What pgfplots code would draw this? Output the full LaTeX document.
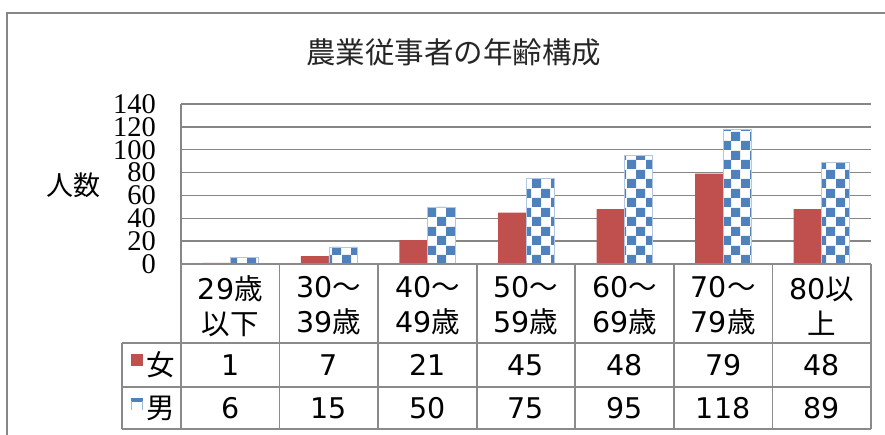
\documentclass[border=0pt]{standalone}
\usepackage{pgfplots}
\pgfplotsset{compat=1.18}
\usetikzlibrary{patterns}
\usepackage{fontspec}
\setmainfont{DejaVu Sans}
\newfontfamily\jp{Noto Sans CJK JP}
\newfontfamily\tickserif{Liberation Serif}
\newcommand{\J}[1]{{\jp #1}}
\definecolor{fem}{HTML}{C0504D}
\definecolor{mal}{HTML}{4F81BD}
\definecolor{gridc}{HTML}{868686}
\definecolor{tabc}{HTML}{8A8A8A}
\pgfdeclarepatternformonly{mycheck}{\pgfqpoint{0bp}{0bp}}{\pgfqpoint{19bp}{19bp}}{\pgfqpoint{19bp}{19bp}}{%
  \pgfpathrectangle{\pgfqpoint{0bp}{0bp}}{\pgfqpoint{9.5bp}{9.5bp}}%
  \pgfpathrectangle{\pgfqpoint{9.5bp}{9.5bp}}{\pgfqpoint{9.5bp}{9.5bp}}%
  \pgfusepath{fill}}
\begin{document}
\begin{tikzpicture}
\useasboundingbox (0bp,0bp) rectangle (885bp,-435bp);
\begin{axis}[
  at={(181bp,-264bp)}, anchor=south west,
  scale only axis, width=690bp, height=160bp,
  xmin=-0.5, xmax=6.5, ymin=0, ymax=140,
  ytick={0,20,...,140}, xtick=\empty,
  axis x line*=bottom, axis y line*=left,
  axis line style={draw=gridc, line width=1.5bp},
  ymajorgrids, major grid style={draw=gridc, line width=1.5bp},
  major tick length=0pt,
  ybar=0pt, bar width=28bp,
  /pgf/number format/assume math mode=true,
  yticklabel style={font=\tickserif\fontsize{28.5bp}{28.5bp}\selectfont, inner sep=0pt, xshift=-25bp},
]
\addplot[fill=fem, draw=none] coordinates {(0,1) (1,7) (2,21) (3,45) (4,48) (5,79) (6,48)};
\addplot[fill=white, draw=mal!45, line width=0.6bp, postaction={pattern=mycheck, pattern color=mal}] coordinates {(0,6) (1,15) (2,50) (3,75) (4,95) (5,118) (6,89)};
\end{axis}
\begin{scope}[x=1bp,y=-1bp]
  % outer chart border
  \draw[gridc, line width=2bp] (7,435) -- (7,13) -- (885,13);
  % title
  \node[font=\jp\fontsize{29.5bp}{29.5bp}\selectfont, text=black!85] at (454,52) {農業従事者の年齢構成};
  % y label
  \node[font=\jp\fontsize{27bp}{27bp}\selectfont] at (73,185) {人数};
  % data table lines
  \begin{scope}[draw=tabc, line width=1.8bp]
    \foreach \k in {0,...,7} \draw (181+98.571*\k,264) -- (181+98.571*\k,429);
    \draw (181,264) -- (871,264);
    \draw (122,343) -- (871,343);
    \draw (122,387) -- (871,387);
    \draw (122,429) -- (871,429);
    \draw (122,343) -- (122,429);
  \end{scope}
  \begin{scope}[every node/.style={font=\fontsize{28.5bp}{35bp}\selectfont, align=center, inner sep=0pt}]
    \node at (230.29,306) {29\J{歳}\\\J{以下}};
    \node at (328.86,306) {30\J{～}\\39\J{歳}};
    \node at (427.43,306) {40\J{～}\\49\J{歳}};
    \node at (526.00,306) {50\J{～}\\59\J{歳}};
    \node at (624.57,306) {60\J{～}\\69\J{歳}};
    \node at (723.14,306) {70\J{～}\\79\J{歳}};
    \node at (821.71,306) {80\J{以}\\\J{上}};
    \foreach \v [count=\i from 0] in {1,7,21,45,48,79,48}
      \node at (230.29+98.571*\i,365) {\v};
    \foreach \v [count=\i from 0] in {6,15,50,75,95,118,89}
      \node at (230.29+98.571*\i,408) {\v};
    \node at (161,365) {\J{女}};
    \node at (161,408) {\J{男}};
  \end{scope}
  % legend keys
  \fill[fem] (131,354) rectangle (143,366);
  \fill[mal] (131,398) rectangle (143,401.5);
  \draw[mal!55, line width=1bp] (131.5,401) -- (131.5,410) (142.5,401) -- (142.5,410);
\end{scope}
\end{tikzpicture}
\end{document}
